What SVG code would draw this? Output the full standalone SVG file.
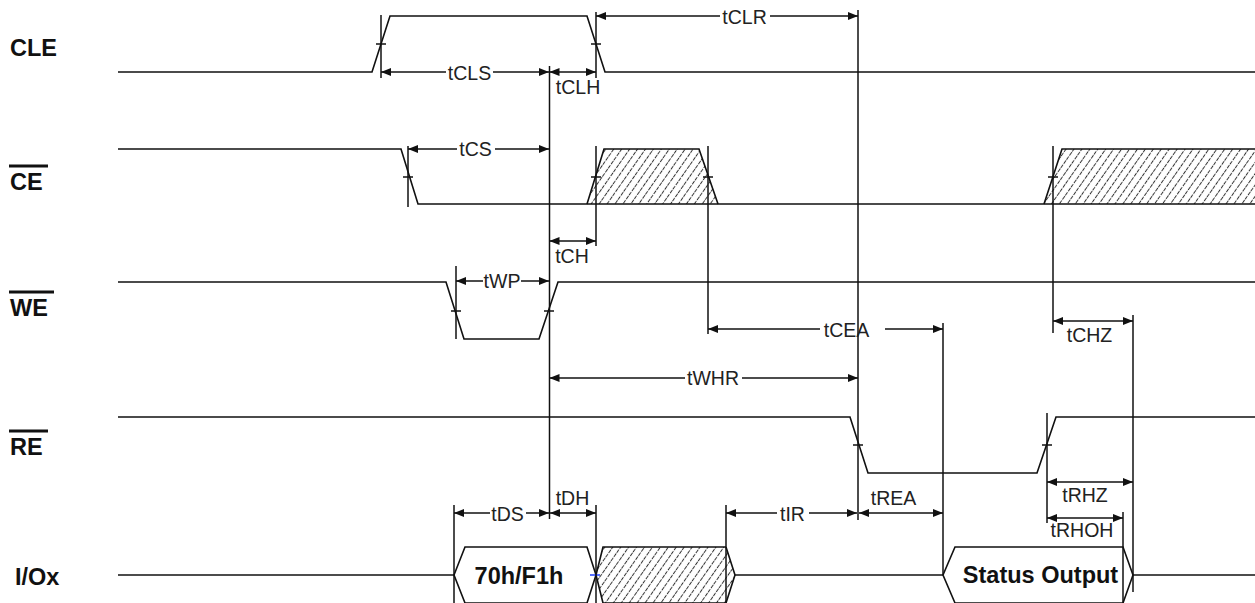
<svg xmlns="http://www.w3.org/2000/svg" width="1255" height="603" viewBox="0 0 1255 603">
<style>
.s{fill:none;stroke:#111;stroke-width:1.6;stroke-linejoin:miter}
.v{fill:none;stroke:#111;stroke-width:1.5}
.d{fill:none;stroke:#111;stroke-width:1.5}
.t{font-family:"Liberation Sans",Arial,sans-serif;font-size:19.5px;fill:#222;text-anchor:middle}
.b{font-family:"Liberation Sans",Arial,sans-serif;font-size:23.5px;font-weight:bold;fill:#111}
.ol{stroke:#111;stroke-width:3}
.h{fill:url(#hatch)}
</style>
<defs>
<marker id="ar" viewBox="0 0 10 8" refX="10" refY="4" markerWidth="10" markerHeight="8" markerUnits="userSpaceOnUse" orient="auto-start-reverse">
<path d="M0,0 L10,4 L0,8 z" fill="#111"/>
</marker>
<pattern id="hatch" patternUnits="userSpaceOnUse" width="6.5" height="10" patternTransform="rotate(35)">
<rect width="6.5" height="10" fill="#fff"/>
<line x1="3.25" y1="0" x2="3.25" y2="10" stroke="#333" stroke-width="1" stroke-dasharray="4 1.2"/>
</pattern>
</defs>
<rect width="1255" height="603" fill="#fff"/>

<g id="labels">
<text class="b" x="10" y="56">CLE</text>
<g id="lbl-ce"><line class="ol" x1="9" y1="166" x2="48" y2="166"/><text class="b" x="10" y="190">CE</text></g>
<g id="lbl-we"><line class="ol" x1="9" y1="292" x2="54" y2="292"/><text class="b" x="10" y="316">WE</text></g>
<g id="lbl-re"><line class="ol" x1="9" y1="431" x2="48" y2="431"/><text class="b" x="10" y="455">RE</text></g>
<text class="b" x="15" y="585">I/Ox</text>
</g>

<g id="sig-cle">
<polyline class="s" points="118,72 372,72 390,16 587,16 605,72 1255,72"/>
<line class="v" x1="376" y1="44" x2="386" y2="44"/>
<line class="v" x1="591" y1="44" x2="601" y2="44"/>
</g>

<g id="sig-ce">
<polygon class="h" points="587,204 604,149 699,149 718,204"/>
<polygon class="h" points="1044,204 1062,149 1255,149 1255,204"/>
<polyline class="s" points="118,149 401,149 418,204 1255,204"/>
<polyline class="s" points="587,204 604,149 699,149 718,204"/>
<polyline class="s" points="1044,204 1062,149 1255,149"/>
<line class="v" x1="403" y1="177" x2="413" y2="177"/>
<line class="v" x1="591" y1="177" x2="601" y2="177"/>
<line class="v" x1="703" y1="177" x2="713" y2="177"/>
<line class="v" x1="1048" y1="177" x2="1058" y2="177"/>
</g>

<g id="sig-we">
<polyline class="s" points="118,282 446,282 464,339 539,339 558,282 1255,282"/>
<line class="v" x1="451" y1="311" x2="461" y2="311"/>
<line class="v" x1="544" y1="311" x2="554" y2="311"/>
</g>

<g id="sig-re">
<polyline class="s" points="118,417 850,417 868,473 1037,473 1056,417 1255,417"/>
<line class="v" x1="853" y1="445" x2="863" y2="445"/>
<line class="v" x1="1042" y1="445" x2="1052" y2="445"/>
</g>

<g id="sig-io">
<line class="s" x1="118" y1="575" x2="454" y2="575"/>
<g id="io-cmd">
<polygon class="s" fill="#fff" points="454,575 465,547 587,547 596,575 587,603 465,603"/>
<text class="b" x="519" y="584" text-anchor="middle">70h/F1h</text>
</g>
<g id="io-hatch">
<polygon class="h" points="596,575 603,547 726,547 735,575 726,603 603,603"/>
<polyline class="s" points="726,547 603,547 596,575 603,603 726,603"/>
<polyline class="s" points="726,547 735,575 726,603"/>
</g>
<line class="s" x1="735" y1="575" x2="943" y2="575"/>
<g id="io-status">
<polygon class="s" fill="#fff" points="943,575 955,547 1123,547 1133,575 1123,603 955,603"/>
<text class="b" x="1040.5" y="583" text-anchor="middle">Status Output</text>
</g>
<line class="s" x1="1133" y1="575" x2="1255" y2="575"/>
<line x1="590" y1="575" x2="600" y2="575" stroke="#1a3cff" stroke-width="1.5"/>
</g>

<g id="connectors">
<line class="v" x1="381" y1="15" x2="381" y2="78"/>
<line class="v" x1="596" y1="12" x2="596" y2="78"/>
<line class="v" x1="549.5" y1="66" x2="549.5" y2="519"/>
<line class="v" x1="858" y1="10" x2="858" y2="520"/>
<line class="v" x1="408" y1="146" x2="408" y2="207"/>
<line class="v" x1="596" y1="146" x2="596" y2="246"/>
<line class="v" x1="708" y1="146" x2="708" y2="334"/>
<line class="v" x1="1053" y1="146" x2="1053" y2="333"/>
<line class="v" x1="456" y1="266" x2="456" y2="339"/>
<line class="v" x1="943" y1="323" x2="943" y2="575"/>
<line class="v" x1="1133" y1="315" x2="1133" y2="592"/>
<line class="v" x1="1047" y1="413" x2="1047" y2="523"/>
<line class="v" x1="1123" y1="512" x2="1123" y2="603"/>
<line class="v" x1="454" y1="505" x2="454" y2="603"/>
<line class="v" x1="596" y1="505" x2="596" y2="603"/>
<line class="v" x1="726" y1="505" x2="726" y2="603"/>

<line class="d" x1="446" y1="72" x2="381" y2="72" marker-end="url(#ar)"/>
<line class="d" x1="493" y1="72" x2="549" y2="72" marker-end="url(#ar)"/>
<text class="t" x="469.5" y="79.5">tCLS</text>
<line class="d" x1="549.5" y1="72" x2="596" y2="72" marker-start="url(#ar)" marker-end="url(#ar)"/>
<text class="t" x="578" y="94">tCLH</text>
<line class="d" x1="720" y1="16" x2="596" y2="16" marker-end="url(#ar)"/>
<line class="d" x1="770" y1="16" x2="858" y2="16" marker-end="url(#ar)"/>
<text class="t" x="744.5" y="23.5">tCLR</text>
<line class="d" x1="457" y1="149" x2="408" y2="149" marker-end="url(#ar)"/>
<line class="d" x1="495" y1="149" x2="549" y2="149" marker-end="url(#ar)"/>
<text class="t" x="475.5" y="155.5">tCS</text>
<line class="d" x1="549.5" y1="241" x2="596" y2="241" marker-start="url(#ar)" marker-end="url(#ar)"/>
<text class="t" x="572" y="263">tCH</text>
<line class="d" x1="483" y1="281" x2="456" y2="281" marker-end="url(#ar)"/>
<line class="d" x1="521" y1="281" x2="549" y2="281" marker-end="url(#ar)"/>
<text class="t" x="502" y="287.5">tWP</text>
<line class="d" x1="820" y1="329" x2="708" y2="329" marker-end="url(#ar)"/>
<line class="d" x1="885" y1="329" x2="943" y2="329" marker-end="url(#ar)"/>
<text class="t" x="846.5" y="336.5">tCEA</text>
<line class="d" x1="685" y1="378" x2="549.5" y2="378" marker-end="url(#ar)"/>
<line class="d" x1="742" y1="378" x2="858" y2="378" marker-end="url(#ar)"/>
<text class="t" x="713" y="385">tWHR</text>
<line class="d" x1="1053" y1="321" x2="1133" y2="321" marker-start="url(#ar)" marker-end="url(#ar)"/>
<text class="t" x="1089.5" y="342">tCHZ</text>
<line class="d" x1="490" y1="513" x2="454" y2="513" marker-end="url(#ar)"/>
<line class="d" x1="526" y1="513" x2="549" y2="513" marker-end="url(#ar)"/>
<text class="t" x="507.5" y="520.5">tDS</text>
<line class="d" x1="550" y1="513" x2="596" y2="513" marker-start="url(#ar)" marker-end="url(#ar)"/>
<text class="t" x="572.5" y="505">tDH</text>
<line class="d" x1="777" y1="513" x2="726" y2="513" marker-end="url(#ar)"/>
<line class="d" x1="809" y1="513" x2="857" y2="513" marker-end="url(#ar)"/>
<text class="t" x="792.5" y="520.5">tIR</text>
<line class="d" x1="859" y1="513" x2="943" y2="513" marker-start="url(#ar)" marker-end="url(#ar)"/>
<text class="t" x="893.5" y="505">tREA</text>
<line class="d" x1="1047" y1="482" x2="1133" y2="482" marker-start="url(#ar)" marker-end="url(#ar)"/>
<text class="t" x="1085" y="502">tRHZ</text>
<line class="d" x1="1047" y1="518" x2="1123" y2="518" marker-start="url(#ar)" marker-end="url(#ar)"/>
<text class="t" x="1082" y="537">tRHOH</text>
</g>
</svg>
